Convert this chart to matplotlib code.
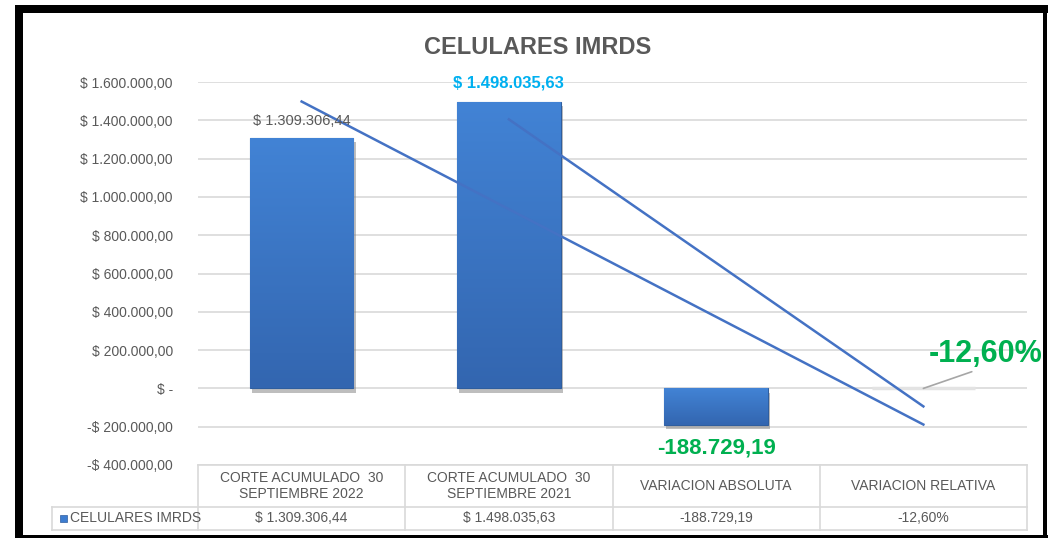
import matplotlib
matplotlib.use("Agg")
import matplotlib.pyplot as plt
import matplotlib.patheffects as pe
from matplotlib.patches import Rectangle
import matplotlib.transforms as mtransforms
import numpy as np

plt.rcParams['font.family'] = ['Liberation Sans Narrow', 'Liberation Sans', 'DejaVu Sans']

# data
categorias = ["CORTE ACUMULADO  30\nSEPTIEMBRE 2022", "CORTE ACUMULADO  30\nSEPTIEMBRE 2021",
              "VARIACION ABSOLUTA", "VARIACION RELATIVA"]
valores = [1309306.44, 1498035.63, -188729.19, -0.126]
tabla_txt = ["$ 1.309.306,44", "$ 1.498.035,63", "-188.729,19", "-12,60%"]
serie = "CELULARES IMRDS"
# hand drawn lines on the chart
linea1_x = [0, 3]
linea1_y = [1498035.63, -188729.19]
linea2_x = [1, 3]
linea2_y = [1405000, -94000]

gris = "#595959"
azul = "#3D7DD0"


def pesos(v, pos=None):
    if v == 0:
        return "$ -"
    s = "{:,.2f}".format(abs(v)).replace(",", "X").replace(".", ",").replace("X", ".")
    return ("-$ " if v < 0 else "$ ") + s


fig = plt.figure(figsize=(10.48, 5.4), dpi=100)
ax = fig.add_axes([198 / 1048, 1 - 465 / 540, 829 / 1048, 383 / 540])

x = np.arange(len(valores))
bars = ax.bar(x, valores, width=0.5, color=azul, edgecolor="#2F5E9E", linewidth=0.8, zorder=3)
cm = matplotlib.colors.LinearSegmentedColormap.from_list("g", ["#3366B0", "#4283D5"])
for b in bars[:3]:
    b.set_path_effects([pe.SimplePatchShadow(offset=(1.5, -3), shadow_rgbFace="#7F7F7F", alpha=0.5), pe.Normal()])
    # vertical gradient
    x0, y0 = b.get_x(), b.get_y()
    w, h = b.get_width(), b.get_height()
    grad = np.linspace(0, 1, 100).reshape(-1, 1)
    im = ax.imshow(grad, extent=[x0, x0 + w, min(y0, y0 + h), max(y0, y0 + h)], origin="lower",
                   cmap=cm, aspect="auto", zorder=3.5)
    im.set_clip_path(b)
bars[3].set_edgecolor("#E3E3E3")
bars[3].set_linewidth(2.5)

ax.plot(linea1_x, linea1_y, color="#4472C4", lw=1.8, zorder=5)
ax.plot(linea2_x, linea2_y, color="#4472C4", lw=1.8, zorder=5)

ax.set_xlim(-0.5, 3.5)
ax.set_ylim(-400000, 1600000)
ax.set_yticks(np.arange(-400000, 1600001, 200000))
ax.yaxis.set_major_formatter(plt.FuncFormatter(pesos))
ax.tick_params(axis="y", length=0, labelsize=10, labelcolor=gris, pad=18)
ax.set_xticks([])
ax.grid(axis="y", color="#D9D9D9", lw=1.2, zorder=0)
for s in ax.spines.values():
    s.set_visible(False)

# data labels
ax.annotate(tabla_txt[0], (0, valores[0]), xytext=(0, 7), textcoords="offset points",
            ha="center", va="bottom", fontsize=10.5, color=gris, zorder=6)
ax.annotate(tabla_txt[1], (1, valores[1]), xytext=(0, 8), textcoords="offset points",
            ha="center", va="bottom", fontsize=12, color="#00B0F0", fontweight="bold", zorder=6)
ax.annotate(tabla_txt[2], (2, valores[2]), xytext=(0, -9), textcoords="offset points",
            ha="center", va="top", fontsize=16, color="#00B050", fontweight="bold", zorder=6)
ax.annotate(tabla_txt[3], (3, valores[3]), xytext=(3.3, 180000), textcoords="data",
            ha="center", va="center", fontsize=22, color="#00B050", fontweight="bold", zorder=6,
            arrowprops=dict(arrowstyle="-", color="#A6A6A6", lw=1.2, shrinkA=0, shrinkB=0,
                            relpos=(0.45, 0.0)))

ax.set_title("CELULARES IMRDS", fontsize=17, fontweight="bold", color=gris, pad=20, x=0.41)

# data table under the axis
tr = mtransforms.blended_transform_factory(ax.transData, ax.transAxes)
h1 = 42 / 383
h2 = 23 / 383
xl = -0.5 - 146 / 207
lc = "#D9D9D9"
for xi in [-0.5, 0.5, 1.5, 2.5, 3.5]:
    ax.plot([xi, xi], [0, -h1 - h2], color=lc, lw=1.2, transform=tr, clip_on=False)
ax.plot([xl, xl], [-h1, -h1 - h2], color=lc, lw=1.2, transform=tr, clip_on=False)
ax.plot([-0.5, 3.5], [0, 0], color=lc, lw=1.2, transform=tr, clip_on=False)
ax.plot([xl, 3.5], [-h1, -h1], color=lc, lw=1.2, transform=tr, clip_on=False)
ax.plot([xl, 3.5], [-h1 - h2, -h1 - h2], color=lc, lw=1.2, transform=tr, clip_on=False)
for i in range(len(categorias)):
    ax.text(i, -h1 / 2, categorias[i], transform=tr, ha="center", va="center",
            fontsize=10, color=gris, linespacing=1.1)
    ax.text(i, -h1 - h2 / 2, tabla_txt[i], transform=tr, ha="center", va="center",
            fontsize=10, color=gris)
ax.add_patch(Rectangle((xl + 0.04, -h1 - h2 / 2 - 0.008), 0.035, 0.016, transform=tr,
                       facecolor=azul, edgecolor="#2F5E9E", lw=0.5, clip_on=False))
ax.text(xl + 0.09, -h1 - h2 / 2, serie, transform=tr, ha="left", va="center",
        fontsize=10, color=gris)

# black frame around the picture
W, H = 1048, 540
for (px, py, pw, ph) in [(15, 5, 1033, 8), (15, 5, 8, 533), (1043, 5, 4, 533), (15, 535, 1033, 3)]:
    fig.patches.append(Rectangle((px / W, 1 - (py + ph) / H), pw / W, ph / H,
                                 transform=fig.transFigure, facecolor="black", edgecolor="none"))

fig.savefig("out.png", dpi=100)
